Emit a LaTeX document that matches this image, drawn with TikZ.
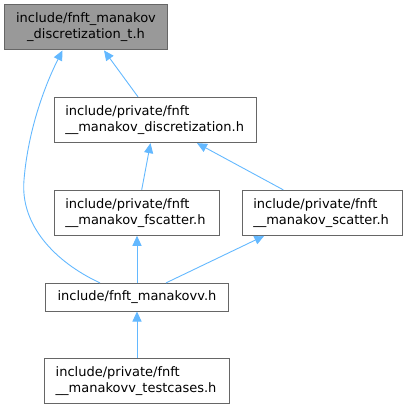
\documentclass[tikz,border=0pt]{standalone}
\usepackage{fontspec}
\setmainfont{DejaVu Sans}
\usetikzlibrary{arrows.meta}
\definecolor{edgeblue}{HTML}{63B8FF}
\definecolor{boxborder}{HTML}{666666}
\definecolor{boxgray}{HTML}{999999}
\begin{document}
\begin{tikzpicture}[x=1pt,y=-1pt,
  font=\fontsize{13}{16}\selectfont,
  box/.style={draw=boxborder, line width=0.9pt, fill=white, inner sep=0pt, align=left},
  edge/.style={draw=edgeblue, line width=0.9pt, -{Triangle[length=10pt,width=9pt]}}]
\useasboundingbox (0,0) rectangle (408,409);
\node[box, fill=boxgray, align=center, minimum width=163.4pt, minimum height=45.3pt] (A) at (86,27.3) {include/fnft\_manakov\\\_discretization\_t.h};
\node[box, text width=180.4pt, minimum width=202.4pt, minimum height=45.4pt] (B) at (155.5,120) {include/private/fnft\\\_\_manakov\_discretization.h};
\node[box, text width=142.7pt, minimum width=164.7pt, minimum height=45pt] (C) at (136.7,212.8) {include/private/fnft\\\_\_manakov\_fscatter.h};
\node[box, text width=138pt, minimum width=160pt, minimum height=45pt] (D) at (322.3,212.8) {include/private/fnft\\\_\_manakov\_scatter.h};
\node[box, align=center, minimum width=182.3pt, minimum height=27.7pt] (E) at (137,297.2) {include/fnft\_manakovv.h};
\node[box, text width=162.6pt, minimum width=184.6pt, minimum height=45pt] (F) at (137,380.8) {include/private/fnft\\\_\_manakovv\_testcases.h};
\draw[edge] ([xshift=-17.5pt]B.north) -- ([xshift=18pt]A.south);
\draw[edge] ([xshift=-37pt]E.north) .. controls (55,262) and (20,225) .. (24,180) .. controls (28,130) and (45,85) .. ([xshift=-23.5pt]A.south);
\draw[edge] ([xshift=5pt]C.north) -- ([xshift=-5pt]B.south);
\draw[edge] ([xshift=-39pt]D.north) -- ([xshift=41.5pt]B.south);
\draw[edge] (E.north) -- (E.north|-C.south);
\draw[edge] ([xshift=29pt]E.north) -- ([xshift=-58pt]D.south);
\draw[edge] (F.north) -- (F.north|-E.south);
\end{tikzpicture}
\end{document}
